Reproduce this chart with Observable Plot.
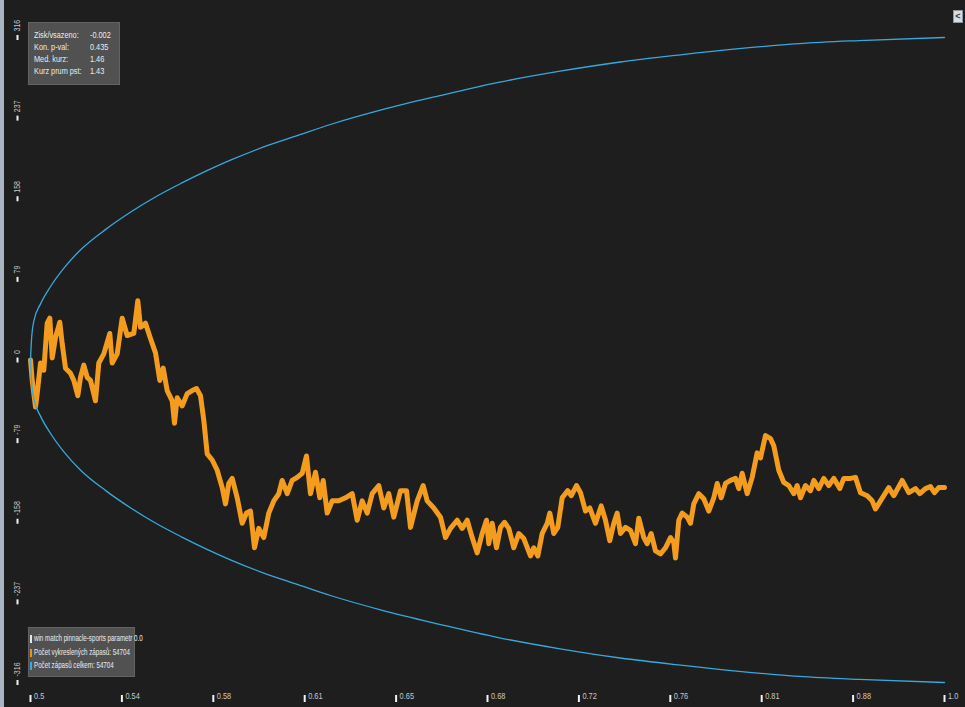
<!DOCTYPE html>
<html><head><meta charset="utf-8">
<script src="https://cdn.jsdelivr.net/npm/d3@7"></script>
<script src="https://cdn.jsdelivr.net/npm/@observablehq/plot@0.6"></script>
<style>
html,body{margin:0;padding:0;background:#1e1e1e;}
#wrap{position:relative;width:965px;height:707px;overflow:hidden;background:#1e1e1e;font-family:"Liberation Sans",Arial,sans-serif;}
#wrap svg{position:absolute;left:0;top:0;}
.box{position:absolute;background:#515151;border:1px solid #636363;color:#ececec;font-size:8.5px;box-sizing:border-box;}
.row{position:relative;white-space:nowrap;}
.nar{display:inline-block;transform:scaleX(0.86);transform-origin:0 50%;}
#legend .nar{transform:scaleX(0.73);}
#stats{left:28px;top:22px;width:92px;height:63px;padding-top:6px;}
#stats .row{height:12px;line-height:12px;}
#stats .lab{position:absolute;left:5px;}
#stats .val{position:absolute;left:61px;}
#legend{left:28px;top:627px;width:107px;height:50px;padding-top:4px;overflow:visible;}
#legend .row{height:13.5px;line-height:13.5px;padding-left:5px;}
#legend .sw{position:absolute;left:1px;top:3px;width:2px;height:8px;}
#btn{position:absolute;left:953px;top:10px;width:10px;height:13px;background:#d9dde3;border:1px solid #8c96a3;box-sizing:border-box;color:#333;font:bold 9px "Liberation Sans",sans-serif;line-height:11px;text-align:center;}
#lstrip{position:absolute;left:0;top:0;width:4px;height:707px;background:#aab5c4;}
</style></head>
<body><div id="wrap"></div>
<script>
// ---- data ----
const matchCount = 54704;
const xTickLabels = ["0.5","0.54","0.58","0.61","0.65","0.68","0.72","0.76","0.81","0.88","1.0"];
const yTickValues = [316, 237, 158, 79, 0, -79, -158, -237, -316];

// confidence envelope (symmetric): match index -> bound
const envelopeN = [0, 60, 200, 600, 1200, 2000, 3000, 4500, 6000, 7500, 9000, 10500, 12000, 14000, 16000, 18000, 21000, 24500, 28000, 31700, 35300, 38900, 42400, 46000, 49600, 54704];
const envelopeV = [0, 20, 38, 55, 72, 90, 108, 128, 145, 160, 173, 185, 196, 209, 220, 231, 245, 259, 272, 283, 292, 299, 305, 310, 313, 316];

// cumulative profit: match index -> value
const profitN = [0,102,299,401,599,796,999,1155,1299,1496,1754,1897,2095,2394,2592,2831,2993,3190,3393,3591,3890,4088,4387,4746,4890,5189,5488,5787,6183,6422,6584,6883,7182,7481,7739,7942,8181,8481,8618,8780,9079,9378,9678,9935,10175,10372,10576,10875,11174,11473,11671,11868,12072,12371,12670,12928,13167,13406,13664,13963,14262,14562,14861,15064,15364,15663,15962,16261,16519,16758,17057,17315,17518,17757,18057,18452,18853,19254,19553,19852,20152,20451,20846,21145,21445,21744,22145,22504,22743,23144,23503,23742,24138,24539,24838,25137,25538,25837,26136,26436,26735,27034,27292,27430,27632,27890,28130,28369,28627,28926,29225,29525,29925,30123,30362,30625,30925,31080,31320,31559,31822,32158,32360,32678,32918,33217,33475,33815,34156,34414,34671,34911,35114,35312,35611,35910,36209,36407,36706,36910,37149,37406,37706,38005,38304,38502,38603,38801,39004,39303,39501,39699,39998,40297,40597,40896,41099,41339,41596,41895,42194,42392,42596,42895,43194,43493,43691,43990,44289,44487,44786,45086,45385,45684,45887,46085,46384,46683,46881,47180,47479,47778,48078,48437,48676,49077,49376,49676,50077,50376,50573,50873,51369,51668,52171,52566,52967,53224,53565,53865,54104,54361,54704];
const profitV = [0,-20,-46,-33,-3,-10,36,41,2,22,37,16,-8,-13,-20,-35,-17,-5,-17,-20,-40,-3,6,26,-3,6,41,24,26,58,32,36,21,7,-20,-8,-30,-40,-62,-37,-45,-33,-30,-28,-35,-59,-92,-98,-108,-125,-141,-121,-116,-135,-160,-150,-148,-184,-165,-174,-150,-138,-131,-118,-131,-118,-115,-111,-94,-131,-110,-135,-118,-150,-138,-138,-135,-131,-157,-138,-150,-131,-123,-145,-131,-154,-128,-128,-164,-138,-123,-138,-145,-154,-174,-165,-157,-165,-157,-174,-189,-170,-157,-180,-160,-184,-164,-159,-165,-184,-170,-175,-192,-184,-192,-170,-160,-150,-170,-164,-135,-128,-133,-123,-130,-148,-145,-160,-143,-157,-177,-160,-150,-170,-164,-167,-180,-155,-174,-180,-170,-187,-190,-184,-174,-179,-194,-157,-150,-154,-160,-141,-131,-136,-148,-135,-121,-135,-121,-118,-116,-126,-111,-131,-115,-91,-96,-74,-77,-84,-108,-120,-123,-131,-123,-135,-123,-128,-118,-126,-116,-123,-116,-126,-116,-116,-115,-130,-133,-138,-146,-138,-125,-133,-118,-130,-126,-131,-126,-124,-130,-125,-125];

const statLabels = ["Zisk/vsazeno:", "Kon. p-val:", "Med. kurz:", "Kurz prum pst:"];
const statValues = ["-0.002", "0.435", "1.46", "1.43"];
const legendLabels = ["win match pinnacle-sports parametr 0.0", "Počet vykreslených zápasů: 54704", "Počet zápasů celkem: 54704"];
const legendColors = ["#e6e6e6", "#e8951f", "#3aa9dc"];

// ---- build tables ----
const profit = profitN.map((n, i) => ({n, v: profitV[i]}));
const envelope = envelopeN.flatMap((n, i) => [{n, v: envelopeV[i], side: "upper"}, {n, v: -envelopeV[i], side: "lower"}]);
const xTickPos = xTickLabels.map((_, i) => i * matchCount / (xTickLabels.length - 1));

const yBar = {draw(ctx) { ctx.rect(-1, -2.5, 2, 5); }};
const xBar = {draw(ctx) { ctx.rect(-1, -3.5, 2, 7); }};

const chart = Plot.plot({
  width: 965, height: 707,
  marginLeft: 30, marginRight: 21, marginTop: 37, marginBottom: 25,
  x: {domain: [0, matchCount], axis: null},
  y: {domain: [-316, 316], axis: null},
  style: {background: "transparent", fontFamily: "'Liberation Sans',Arial,sans-serif"},
  marks: [
    Plot.line(profit, {x: "n", y: "v", stroke: "#f49c1e", strokeWidth: 5, strokeLinejoin: "round", strokeLinecap: "round"}),
    Plot.line(envelope, {x: "n", y: "v", z: "side", stroke: "#38a8dc", strokeWidth: 1.3, curve: "monotone-x"}),
    Plot.dot(yTickValues, {y: d => d, frameAnchor: "left", dx: -13, symbol: yBar, fill: "#f2f2f2", r: 3}),
    Plot.text(yTickValues, {y: d => d, frameAnchor: "left", dx: -13.5, dy: -6, rotate: -90, textAnchor: "start", text: d => String(d), fill: "#c8c8c8", fontSize: 9}),
    Plot.dot(xTickPos, {x: d => d, frameAnchor: "bottom", dy: 16, symbol: xBar, fill: "#f2f2f2", r: 3}),
    Plot.text(xTickPos, {x: d => d, frameAnchor: "bottom", dy: 16, dx: 3.5, textAnchor: "start", text: (d, i) => xTickLabels[i], fill: "#c8c8c8", fontSize: 9.5})
  ]
});

// narrow the axis label glyphs horizontally (along the text direction)
chart.querySelectorAll("text").forEach(t => {
  const tr = t.getAttribute("transform");
  if (tr) {
    t.setAttribute("transform", tr + " scale(0.78,1)");
  } else {
    const x = +t.getAttribute("x") || 0, y = +t.getAttribute("y") || 0;
    t.removeAttribute("x"); t.removeAttribute("y");
    t.setAttribute("transform", `translate(${x},${y}) scale(0.78,1)`);
  }
});

const wrap = document.getElementById("wrap");
wrap.appendChild(chart);

const strip = document.createElement("div"); strip.id = "lstrip"; wrap.appendChild(strip);

const stats = document.createElement("div");
stats.className = "box"; stats.id = "stats";
statLabels.forEach((t, i) => {
  const r = document.createElement("div"); r.className = "row";
  const a = document.createElement("span"); a.className = "lab";
  const an = document.createElement("span"); an.className = "nar"; an.textContent = t; a.appendChild(an);
  const b = document.createElement("span"); b.className = "val";
  const bn = document.createElement("span"); bn.className = "nar"; bn.textContent = statValues[i]; b.appendChild(bn);
  r.appendChild(a); r.appendChild(b); stats.appendChild(r);
});
wrap.appendChild(stats);

const legend = document.createElement("div");
legend.className = "box"; legend.id = "legend";
legendLabels.forEach((t, i) => {
  const r = document.createElement("div"); r.className = "row";
  const s = document.createElement("span"); s.className = "sw"; s.style.background = legendColors[i];
  const n = document.createElement("span"); n.className = "nar"; n.textContent = t;
  r.appendChild(s); r.appendChild(n); legend.appendChild(r);
});
wrap.appendChild(legend);

const btn = document.createElement("div"); btn.id = "btn"; btn.textContent = "<"; wrap.appendChild(btn);
</script>
</body></html>
